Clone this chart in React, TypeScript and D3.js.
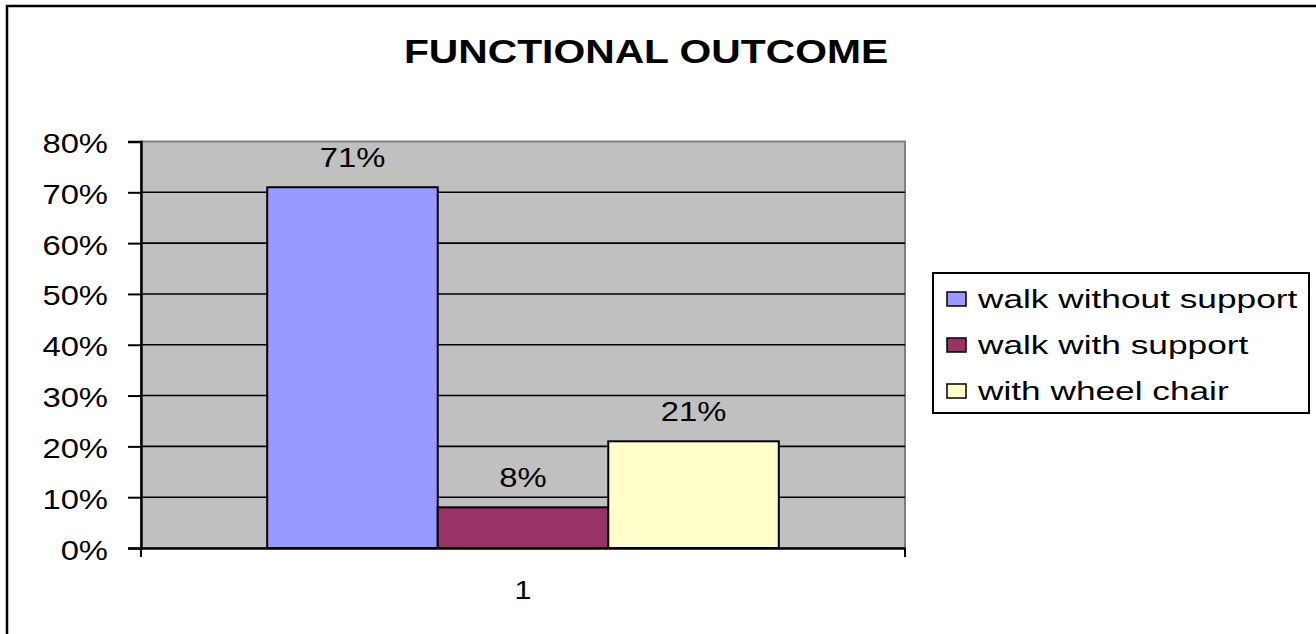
import React, { useRef, useEffect } from "react";
import * as d3 from "d3";

// chart data
const categories = ["1"];
const seriesNames = ["walk without support", "walk with support", "with wheel chair"];
const seriesValues = [71, 8, 21];
const seriesColors = ["#9999FF", "#993366", "#FFFFCC"];
const yTicks = [0, 10, 20, 30, 40, 50, 60, 70, 80];
const chartTitle = "FUNCTIONAL OUTCOME";

export default function App() {
  const svgRef = useRef<SVGSVGElement | null>(null);

  useEffect(() => {
    const W = 1316;
    const H = 634;
    const plot = { left: 141, right: 905, top: 141.5, bottom: 548 };
    const font = "'Liberation Sans', Arial, sans-serif";
    const sx = 1.17; // the source picture is stretched sideways a bit

    const svgEl = d3.select(svgRef.current);
    svgEl.selectAll("*").remove();
    const svg = svgEl.attr("width", W).attr("height", H);

    svg.append("rect").attr("width", W).attr("height", H).attr("fill", "#fff");

    // outer chart border (runs off the right/bottom edge)
    svg
      .append("rect")
      .attr("x", 7)
      .attr("y", 6)
      .attr("width", W + 20)
      .attr("height", H + 20)
      .attr("fill", "none")
      .attr("stroke", "#000")
      .attr("stroke-width", 2.5);

    // title
    svg
      .append("text")
      .attr("transform", `translate(646,63) scale(1.2,1)`)
      .attr("text-anchor", "middle")
      .style("font-family", font)
      .style("font-weight", "bold")
      .style("font-size", "34px")
      .text(chartTitle);

    // scales
    const x0 = d3
      .scaleBand<string>()
      .domain(categories)
      .range([plot.left, plot.right]);

    const x1 = d3
      .scaleBand<string>()
      .domain(seriesNames)
      .range([0, x0.bandwidth()])
      .paddingInner(0)
      .paddingOuter(0.74);

    const y = d3.scaleLinear().domain([0, 80]).range([plot.bottom, plot.top]);

    // plot area
    svg
      .append("rect")
      .attr("x", plot.left)
      .attr("y", plot.top)
      .attr("width", plot.right - plot.left)
      .attr("height", plot.bottom - plot.top)
      .attr("fill", "#C0C0C0")
      .attr("stroke", "#808080")
      .attr("stroke-width", 2);

    // gridlines
    svg
      .append("g")
      .selectAll("line")
      .data(yTicks.filter((t) => t > 0 && t < 80))
      .join("line")
      .attr("x1", plot.left)
      .attr("x2", plot.right)
      .attr("y1", (d) => y(d))
      .attr("y2", (d) => y(d))
      .attr("stroke", "#000")
      .attr("stroke-width", 1.6);

    // bars
    const g = svg.append("g").attr("transform", `translate(${x0(categories[0])},0)`);
    g.selectAll("rect")
      .data(seriesNames)
      .join("rect")
      .attr("x", (d) => x1(d) as number)
      .attr("y", (_, i) => y(seriesValues[i]))
      .attr("width", x1.bandwidth())
      .attr("height", (_, i) => plot.bottom - y(seriesValues[i]))
      .attr("fill", (_, i) => seriesColors[i])
      .attr("stroke", "#000")
      .attr("stroke-width", 2);

    // value labels
    g.selectAll("text")
      .data(seriesNames)
      .join("text")
      .attr(
        "transform",
        (d, i) =>
          `translate(${(x1(d) as number) + x1.bandwidth() / 2},${y(seriesValues[i]) - 20}) scale(${sx},1)`
      )
      .attr("text-anchor", "middle")
      .style("font-family", font)
      .style("font-size", "28px")
      .text((_, i) => `${seriesValues[i]}%`);

    // y axis
    const yAxis = svg
      .append("g")
      .attr("transform", `translate(${plot.left},0)`)
      .call(
        d3
          .axisLeft(y)
          .tickValues(yTicks)
          .tickSize(13)
          .tickPadding(20)
          .tickFormat((d) => `${d}%`)
      );
    yAxis.select(".domain").attr("stroke", "#000").attr("stroke-width", 2.5);
    yAxis.selectAll(".tick line").attr("stroke", "#000").attr("stroke-width", 2);
    yAxis
      .selectAll<SVGTextElement, number>(".tick text")
      .attr("x", null)
      .attr("dy", null)
      .attr("transform", `translate(-33,11) scale(${sx},1)`)
      .attr("fill", "#000")
      .style("font-family", font)
      .style("font-size", "28px");

    // x axis
    const xAxis = svg
      .append("g")
      .attr("transform", `translate(0,${plot.bottom})`)
      .call(d3.axisBottom(x0).tickSize(0).tickPadding(0));
    xAxis.select(".domain").attr("stroke", "#000").attr("stroke-width", 2.5);
    xAxis
      .selectAll(".tick text")
      .attr("y", null)
      .attr("dy", null)
      .attr("transform", `translate(0,51) scale(${sx},1)`)
      .attr("fill", "#000")
      .style("font-family", font)
      .style("font-size", "26px");
    // category boundary ticks
    xAxis
      .selectAll(".edge")
      .data([plot.left, plot.right])
      .join("line")
      .attr("class", "edge")
      .attr("x1", (d) => d)
      .attr("x2", (d) => d)
      .attr("y1", 0)
      .attr("y2", 9)
      .attr("stroke", "#000")
      .attr("stroke-width", 2);

    // legend
    const legend = svg.append("g").attr("transform", "translate(933,273)");
    legend
      .append("rect")
      .attr("width", 376)
      .attr("height", 140)
      .attr("fill", "#fff")
      .attr("stroke", "#000")
      .attr("stroke-width", 2);
    const item = legend
      .selectAll("g.item")
      .data(seriesNames)
      .join("g")
      .attr("class", "item")
      .attr("transform", (_, i) => `translate(0,${35 + i * 46})`);
    item
      .append("rect")
      .attr("x", 14)
      .attr("y", -16)
      .attr("width", 19)
      .attr("height", 14)
      .attr("fill", (_, i) => seriesColors[i])
      .attr("stroke", "#000")
      .attr("stroke-width", 1.5);
    item
      .append("text")
      .attr("transform", "translate(45,0) scale(1.41,1)")
      .style("font-family", font)
      .style("font-size", "25px")
      .text((d) => d);
  }, []);

  return (
    <svg
      ref={svgRef}
      style={{ position: "absolute", left: 0, top: 0, display: "block" }}
    />
  );
}
